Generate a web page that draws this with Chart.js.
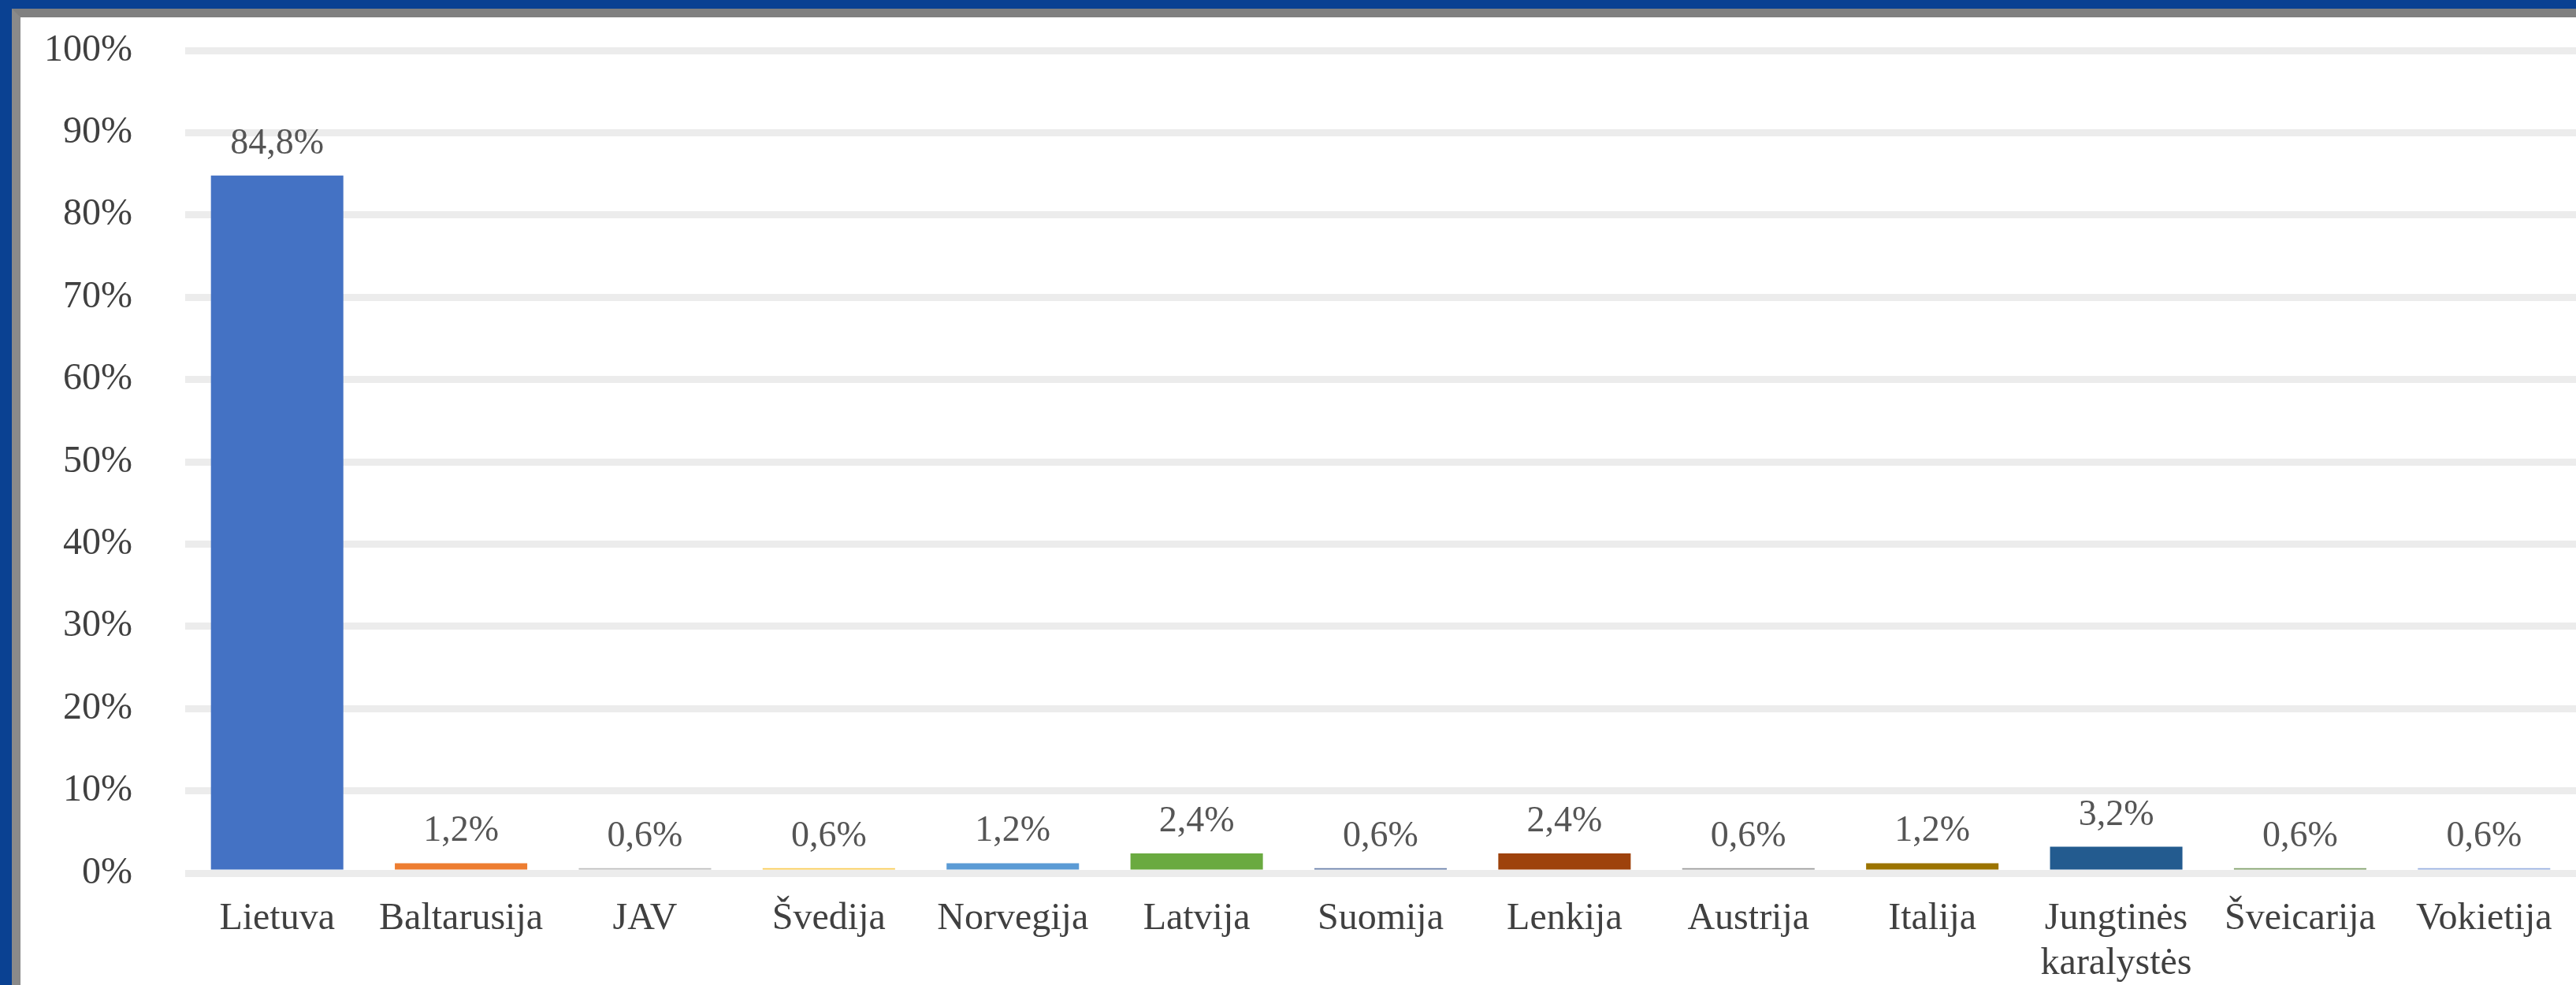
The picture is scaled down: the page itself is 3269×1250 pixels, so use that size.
<!DOCTYPE html>
<html>
<head>
<meta charset="utf-8">
<script src="https://cdn.jsdelivr.net/npm/chart.js@4"></script>
<style>
    body {
        margin: 0;
        background: #0a4192;
        width: 3269px;
        height: 1250px;
        overflow: hidden;
    }
    .frame {
        position: absolute;
        left: 15px;
        top: 11px;
        width: 3254px;
        height: 1239px;
        background: #fff;
        border-left: 11px solid #8a8a8a;
        border-top: 11px solid #808080;
    }
    #myChart {
        display: block;
    }
</style>
</head>
<body>
<div class="frame">
    <canvas id="myChart" width="3243" height="1228"></canvas>
</div>
<script>
const categories = [
    'Lietuva', 'Baltarusija', 'JAV', 'Švedija', 'Norvegija', 'Latvija', 'Suomija',
    'Lenkija', 'Austrija', 'Italija', ['Jungtinės', 'karalystės'], 'Šveicarija', 'Vokietija'
];
const shares = [84.8, 1.2, 0.6, 0.6, 1.2, 2.4, 0.6, 2.4, 0.6, 1.2, 3.2, 0.6, 0.6];
const barColors = [
    '#4472c4', '#ed7d31', '#bdbdbd', '#f9cc55', '#5b9bd5', '#6aaa40', '#6a80aa',
    '#9e420c', '#9a9a9a', '#9c7400', '#235b8f', '#80a06a', '#98b0e0'
];
const yTicks = [0, 10, 20, 30, 40, 50, 60, 70, 80, 90, 100];

const serif = '"Liberation Serif", "Times New Roman", serif';

const chartConfig = {
    type: 'bar',
    data: {
        labels: categories,
        datasets: [
            {
                data: shares,
                backgroundColor: barColors,
                borderWidth: 0,
                barPercentage: 0.72,
                categoryPercentage: 1
            }
        ]
    },
    options: {
        responsive: false,
        animation: false,
        layout: {
            padding: { top: 42, right: 0, bottom: 0, left: 0 }
        },
        scales: {
            x: {
                grid: { display: false },
                border: { display: false },
                ticks: {
                    color: '#404040',
                    font: { family: serif, size: 48, lineHeight: 1.18 },
                    padding: 22,
                    maxRotation: 0,
                    autoSkip: false
                },
                afterFit: function (scale) {
                    scale.height = 142;
                }
            },
            y: {
                min: 0,
                max: 100,
                afterBuildTicks: function (scale) {
                    scale.ticks = yTicks.map(function (v) { return { value: v }; });
                },
                grid: {
                    color: '#ececec',
                    lineWidth: 9,
                    drawTicks: true,
                    tickLength: 62,
                    tickColor: 'rgba(0,0,0,0)'
                },
                border: { display: false },
                ticks: {
                    color: '#404040',
                    font: { family: serif, size: 48 },
                    padding: 5,
                    callback: function (value) {
                        return value + '%';
                    }
                },
                afterFit: function (scale) {
                    scale.width = 209;
                }
            }
        },
        plugins: {
            legend: { display: false },
            tooltip: { enabled: false }
        }
    },
    plugins: [
        {
            id: 'dataLabels',
            afterDatasetsDraw: function (chart) {
                const ctx = chart.ctx;
                const meta = chart.getDatasetMeta(0);
                ctx.save();
                ctx.fillStyle = '#555';
                ctx.font = '46px ' + serif;
                ctx.textAlign = 'center';
                ctx.textBaseline = 'alphabetic';
                meta.data.forEach(function (bar, index) {
                    const label = shares[index].toFixed(1).replace('.', ',') + '%';
                    ctx.fillText(label, bar.x, bar.y - 28);
                });
                ctx.restore();
            }
        }
    ]
};

const ctx = document.getElementById('myChart').getContext('2d');
const myChart = new Chart(ctx, chartConfig);
</script>
</body>
</html>
